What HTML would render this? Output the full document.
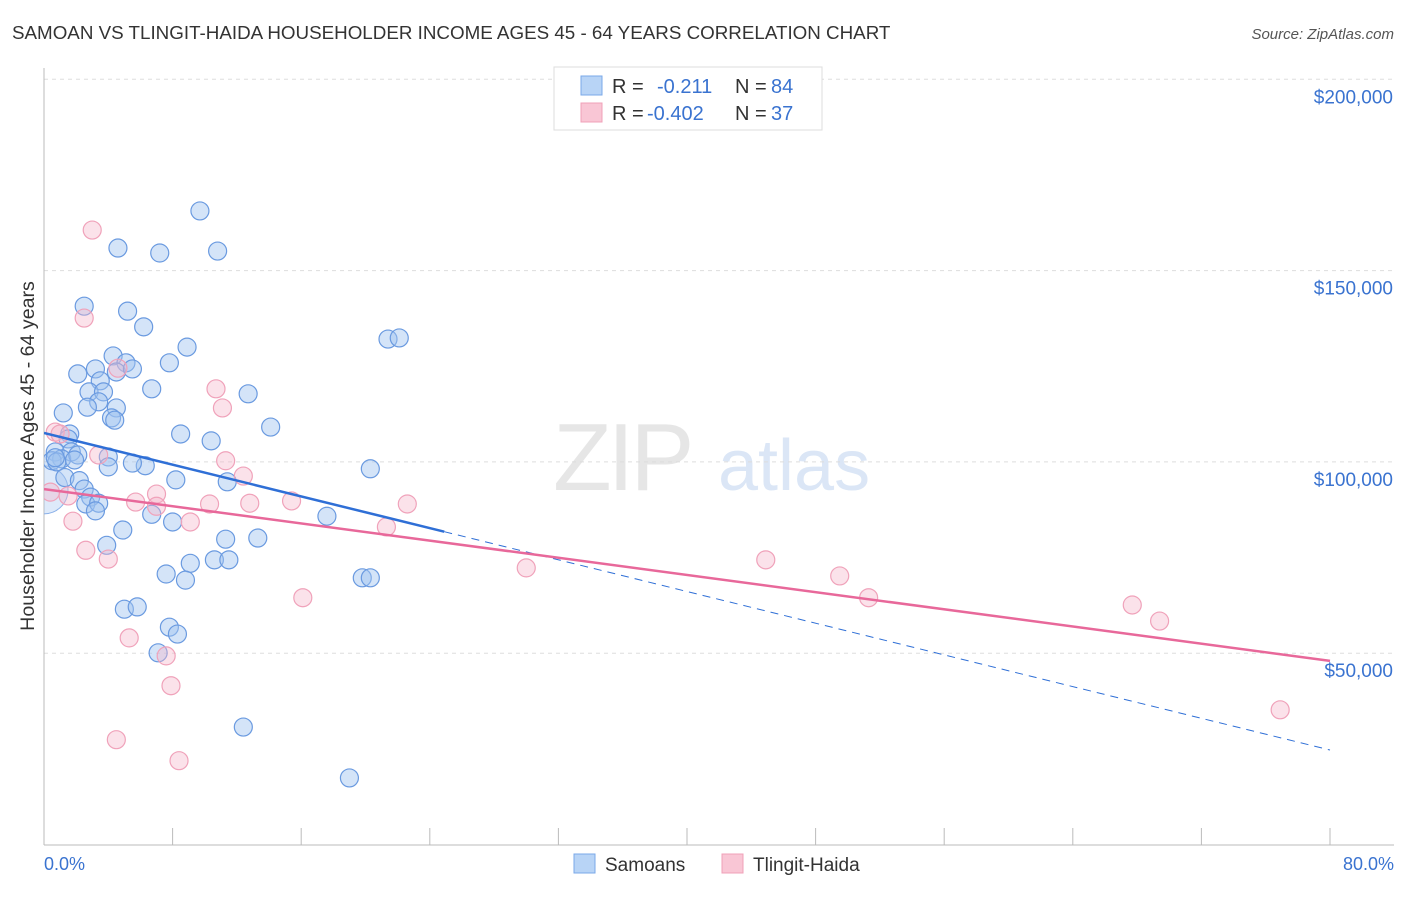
<!DOCTYPE html>
<html><head><meta charset="utf-8"><style>
body{margin:0;background:#fff;font-family:"Liberation Sans",sans-serif;}
svg text{font-family:"Liberation Sans",sans-serif;}
</style></head><body>
<svg id="chart" width="1406" height="892" viewBox="0 0 1406 892" xmlns="http://www.w3.org/2000/svg">
<defs><clipPath id="plotclip"><rect x="44" y="60" width="1360" height="785"/></clipPath></defs>
<text x="12" y="39" font-size="18.8" fill="#333">SAMOAN VS TLINGIT-HAIDA HOUSEHOLDER INCOME AGES 45 - 64 YEARS CORRELATION CHART</text>
<text x="1394" y="39" font-size="15" fill="#555" text-anchor="end" font-style="italic">Source: ZipAtlas.com</text>
<g opacity="0.5">
<text x="553" y="490" font-size="96" fill="#cfcfcf" font-family="Liberation Serif" letter-spacing="-4">ZIP</text>
<text x="718" y="490" font-size="72" fill="#b8cfee">atlas</text>
</g>
<g id="grid"></g>
<g id="axes"></g>
<g id="marks" clip-path="url(#plotclip)"></g>
<g>
<rect x="554" y="67" width="268" height="63" fill="#fff" stroke="#ddd"/>
<rect x="581" y="76" width="21" height="19" fill="#b8d4f6" stroke="#7aa8e8"/>
<rect x="581" y="103" width="21" height="19" fill="#f9c6d5" stroke="#f0a0b8"/>
<text x="612" y="93" font-size="20" fill="#333">R =</text>
<text x="657" y="93" font-size="20" fill="#3a73d0">-0.211</text>
<text x="735" y="93" font-size="20" fill="#333">N =</text>
<text x="771" y="93" font-size="20" fill="#3a73d0">84</text>
<text x="612" y="120" font-size="20" fill="#333">R =</text>
<text x="647" y="120" font-size="20" fill="#3a73d0">-0.402</text>
<text x="735" y="120" font-size="20" fill="#333">N =</text>
<text x="771" y="120" font-size="20" fill="#3a73d0">37</text>
</g>
<g>
<rect x="574" y="854" width="21" height="19" fill="#b8d4f6" stroke="#7aa8e8"/>
<text x="605" y="871" font-size="19" fill="#333">Samoans</text>
<rect x="722" y="854" width="21" height="19" fill="#f9c6d5" stroke="#f0a0b8"/>
<text x="753" y="871" font-size="19" fill="#333">Tlingit-Haida</text>
</g>
<text transform="translate(34,456) rotate(-90)" font-size="19.6" fill="#333" text-anchor="middle">Householder Income Ages 45 - 64 years</text>
<text x="44" y="870" font-size="18" fill="#3a73d0">0.0%</text>
<text x="1394" y="870" font-size="18" fill="#3a73d0" text-anchor="end">80.0%</text>
</svg>
<script>
const yTicks=[200000,150000,100000,50000];
const yTickLabels=["$200,000","$150,000","$100,000","$50,000"];
const xTicks=[0,8,16,24,32,40,48,56,64,72,80];
const samoanX=[9.7,4.6,7.2,10.8,2.5,5.2,6.2,8.9,21.4,22.1,4.3,5.1,7.8,2.1,3.2,4.5,5.5,3.5,6.7,2.8,3.7,12.7,3.4,2.7,4.5,1.2,4.2,4.4,14.1,8.5,10.4,1.6,1.5,0.7,1.7,4.0,1.1,0.5,0.8,0.7,2.1,1.9,6.3,5.5,4.0,20.3,1.3,8.2,11.4,2.2,2.5,2.9,2.6,3.4,6.7,3.2,17.6,8.0,4.9,13.3,11.3,3.9,9.1,7.6,10.6,11.5,8.8,19.8,20.3,5.0,5.8,7.8,8.3,7.1,12.4,19.0];
const samoanY=[165.6,155.9,154.6,155.1,140.7,139.4,135.3,130.0,132.1,132.4,127.7,125.9,125.9,123.0,124.3,123.5,124.3,121.2,119.1,118.3,118.3,117.8,115.7,114.3,114.1,112.8,111.5,110.9,109.1,107.3,105.5,107.3,106.0,102.6,102.6,101.3,100.8,100.3,100.0,101.1,101.8,100.5,99.0,99.7,98.7,98.2,95.9,95.3,94.8,95.1,92.9,90.8,89.0,89.2,86.3,87.2,85.8,84.3,82.2,80.1,79.8,78.2,73.5,70.7,74.4,74.4,69.1,69.7,69.7,61.5,62.1,56.8,55.0,50.1,30.7,17.4];
const tlingitX=[3.0,2.5,4.6,10.7,11.1,0.7,1.0,3.4,11.3,12.4,0.4,1.5,7.0,5.7,7.0,10.3,12.8,15.4,22.6,1.8,9.1,21.3,2.6,4.0,30.0,44.9,49.5,51.3,16.1,5.3,7.6,7.9,4.5,8.4,67.7,69.4,76.9];
const tlingitY=[160.6,137.6,124.5,119.1,114.1,107.8,107.3,101.8,100.3,96.3,92.1,91.1,91.6,89.5,88.4,89.0,89.2,89.8,89.0,84.5,84.3,83.0,76.9,74.6,72.3,74.4,70.2,64.5,64.5,54.0,49.3,41.5,27.4,21.9,62.6,58.4,35.2];
const samoanTrend=[107.55,24.7];
const tlingitTrend=[92.9,48.0];
const samoanSolidEnd=24.9;

const NS="http://www.w3.org/2000/svg";
const X0=44,X1=1330,YB=844.5,PXPER50K=191.3;
function sx(v){return X0+(v/80)*(X1-X0);}
function sy(v){return YB-(v/50000)*PXPER50K;}
function mk(tag,attrs,parent){const e=document.createElementNS(NS,tag);for(const k in attrs)e.setAttribute(k,attrs[k]);parent.appendChild(e);return e;}
const grid=document.getElementById('grid'),axes=document.getElementById('axes'),marks=document.getElementById('marks');
yTicks.forEach((t,i)=>{
 const l=mk('line',{x1:X0,x2:1394,y1:sy(t),y2:sy(t),stroke:'#ddd','stroke-dasharray':'4,4'},grid);
 
 
 const tx=mk('text',{x:1393,y:sy(t)+24,'font-size':19,fill:'#3a73d0','text-anchor':'end'},axes);
 tx.textContent=yTickLabels[i];
 
 
});
const ax=mk('line',{x1:X0,x2:1394,y1:845,y2:845,stroke:'#bbb'},axes);


const ay=mk('line',{x1:X0,x2:X0,y1:68,y2:845,stroke:'#bbb'},axes);


xTicks.forEach(t=>{
 const l=mk('line',{x1:sx(t),x2:sx(t),y1:828,y2:845,stroke:'#bbb'},axes);
 
 
});
function dots(xs,ys,fill,stroke,name){
 xs.forEach((x,i)=>{
  const c=mk('circle',{cx:sx(x),cy:sy(ys[i]*1000),r:9,fill:fill,stroke:stroke,'stroke-width':1.2},marks);
  
  
 });
}
const big=mk('circle',{cx:sx(0),cy:sy(92700),r:24,fill:'rgba(160,196,240,0.35)',stroke:'#8ab0e8','stroke-width':1},marks);


dots(samoanX,samoanY,'rgba(160,196,240,0.45)','#6a9ae0','samoan-point');
dots(tlingitX,tlingitY,'rgba(246,182,202,0.4)','#f0a2ba','tlingit-point');
function trendY(tr,x){return (tr[0]+(tr[1]-tr[0])*x/80)*1000;}
const bs=mk('line',{x1:sx(0),y1:sy(trendY(samoanTrend,0)),x2:sx(samoanSolidEnd),y2:sy(trendY(samoanTrend,samoanSolidEnd)),stroke:'#2f6fd6','stroke-width':2.5},marks);


const bd=mk('line',{x1:sx(samoanSolidEnd),y1:sy(trendY(samoanTrend,samoanSolidEnd)),x2:sx(80),y2:sy(trendY(samoanTrend,80)),stroke:'#2f6fd6','stroke-width':1,'stroke-dasharray':'8,6'},marks);


const pt=mk('line',{x1:sx(0),y1:sy(trendY(tlingitTrend,0)),x2:sx(80),y2:sy(trendY(tlingitTrend,80)),stroke:'#e8689a','stroke-width':2.5},marks);


</script>
</body></html>
